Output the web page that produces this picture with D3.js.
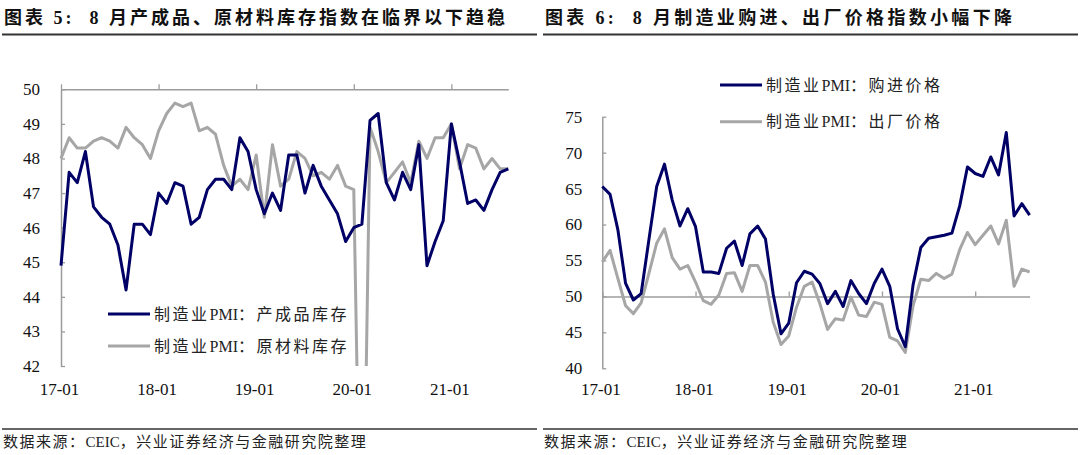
<!DOCTYPE html>
<html><head><meta charset="utf-8">
<script src="https://cdn.jsdelivr.net/npm/d3@7"></script>
<style>
html,body{margin:0;padding:0;background:#fff;}
svg{display:block;font-family:"Liberation Serif","Noto Sans CJK SC",serif;}
</style></head><body>
<svg id="c" width="1080" height="455"></svg>
<script>
const months = [
"17-01","17-02","17-03","17-04","17-05","17-06","17-07","17-08","17-09","17-10","17-11","17-12",
"18-01","18-02","18-03","18-04","18-05","18-06","18-07","18-08","18-09","18-10","18-11","18-12",
"19-01","19-02","19-03","19-04","19-05","19-06","19-07","19-08","19-09","19-10","19-11","19-12",
"20-01","20-02","20-03","20-04","20-05","20-06","20-07","20-08","20-09","20-10","20-11","20-12",
"21-01","21-02","21-03","21-04","21-05","21-06","21-07","21-08"];
const xTickLabels = ["17-01","18-01","19-01","20-01","21-01"];

// 图表5
const finishedGoods = [
44.9,47.6,47.3,48.2,46.6,46.3,46.1,45.5,44.2,46.1,46.1,45.8,
47.0,46.7,47.3,47.2,46.1,46.3,47.1,47.4,47.4,47.1,48.6,48.2,
47.1,46.4,47.0,46.5,48.1,48.1,47.0,47.8,47.2,46.8,46.4,45.6,
46.0,46.1,49.1,49.3,47.3,46.8,47.6,47.1,48.4,44.9,45.6,46.2,
49.0,47.9,46.7,46.8,46.5,47.1,47.6,47.7];
const rawMaterials = [
48.0,48.6,48.3,48.3,48.5,48.6,48.5,48.3,48.9,48.6,48.4,48.0,
48.8,49.3,49.6,49.5,49.6,48.8,48.9,48.7,47.8,47.2,47.4,47.1,
48.1,46.3,48.4,47.2,47.4,48.2,48.0,47.5,47.6,47.4,47.8,47.2,
47.1,33.9,48.9,48.2,47.3,47.6,47.9,47.3,48.5,48.0,48.6,48.6,
49.0,47.7,48.4,48.3,47.7,48.0,47.7,47.7];
const leftYTicks = [42,43,44,45,46,47,48,49,50];

// 图表6
const purchasePrice = [
65.3,64.2,59.3,51.8,49.5,50.4,57.9,65.3,68.4,63.4,59.8,62.2,
59.7,53.4,53.4,53.2,56.7,57.7,54.3,58.7,59.8,58.0,50.3,44.8,
46.3,51.9,53.5,53.1,51.8,49.0,50.7,48.6,52.2,50.4,49.0,51.8,
53.8,51.4,45.5,43.0,51.6,56.8,58.1,58.3,58.5,58.8,62.6,68.0,
67.1,66.7,69.4,66.9,72.8,61.2,62.9,61.3];
const exFactoryPrice = [
54.8,56.4,52.5,48.7,47.6,49.1,53.2,57.4,59.4,55.4,53.8,54.3,
52.0,49.4,48.9,50.2,53.2,53.3,50.7,54.3,54.3,52.0,46.4,43.3,
44.5,48.5,51.4,52.0,49.0,45.4,46.9,46.7,49.9,47.4,47.2,49.2,
48.9,44.3,43.8,42.2,48.7,52.4,52.2,53.2,52.5,53.1,56.5,58.9,
57.2,58.5,59.8,57.3,60.6,51.4,53.8,53.4];
const rightYTicks = [40,45,50,55,60,65,70,75];

const titles = ["图表 5:  8 月产成品、原材料库存指数在临界以下趋稳", "图表 6:  8 月制造业购进、出厂价格指数小幅下降"];
const source = "数据来源：CEIC，兴业证券经济与金融研究院整理";
const leftNames = ["制造业PMI：产成品库存","制造业PMI：原材料库存"];
const rightNames = ["制造业PMI：购进价格","制造业PMI：出厂价格"];

const NAVY = "#000066", GRAY = "#A6A6A6", AXIS = "#9C9C9C";
const svg = d3.select("#c");

// text with letter-spaced CJK and tight Latin runs
function spacedText(sel, str, ls){
  const parts = str.match(/[A-Za-z]+|[^A-Za-z]+/g);
  parts.forEach(p=>{
    const latin = /^[A-Za-z]+$/.test(p);
    sel.append("tspan").attr("letter-spacing", latin ? 0 : ls).text(p);
  });
  return sel;
}

// titles & rules
const hdr = [{x0:2,x1:537,tx:4,tend:505},{x0:543,x1:1078,tx:545,tend:1012}];
hdr.forEach((h,i)=>{
  svg.append("text").attr("x",h.tx).attr("y",24).attr("font-size",18).attr("font-weight","bold")
    .attr("fill","#111").style("white-space","pre")
    .attr("textLength",h.tend-h.tx).attr("lengthAdjust","spacing").text(titles[i]);
  svg.append("line").attr("x1",h.x0).attr("x2",h.x1).attr("y1",34.5).attr("y2",34.5)
    .attr("stroke","#333").attr("stroke-width",2.2);
  svg.append("line").attr("x1",h.x0).attr("x2",h.x1).attr("y1",429).attr("y2",429)
    .attr("stroke","#333").attr("stroke-width",1.5);
  const ft = svg.append("text").attr("x",h.tx-1).attr("y",447).attr("font-size",15).attr("fill","#222");
  spacedText(ft, source, 1.5);
});

function chart(cfg){
  const g = svg.append("g");
  const x = d3.scalePoint(months,[cfg.x0,cfg.x1]);
  const y = d3.scaleLinear(cfg.ydom,[cfg.yb,cfg.yt]);
  const clipId = "clip"+cfg.id;
  svg.append("clipPath").attr("id",clipId).append("rect")
    .attr("x",cfg.x0-2).attr("y",cfg.yt).attr("width",cfg.x1-cfg.x0+4).attr("height",cfg.yb-cfg.yt);

  // y axis
  const ya = g.append("g").attr("transform",`translate(${cfg.x0},0)`)
    .call(d3.axisLeft(y).tickValues(cfg.yticks).tickSizeInner(-4).tickSizeOuter(0).tickPadding(cfg.pad));
  ya.selectAll("line").attr("stroke",AXIS).attr("stroke-width",1.3);
  ya.select(".domain").attr("stroke",AXIS).attr("stroke-width",1.5);
  ya.selectAll("text").attr("font-size",17).attr("fill","#111").attr("font-family","Liberation Serif");

  // x axis line at 50 with upward ticks
  const xa = g.append("g").attr("transform",`translate(0,${y(50)})`)
    .call(d3.axisTop(x).tickValues(xTickLabels).tickSizeInner(5).tickSizeOuter(0).tickFormat(""));
  xa.selectAll("line").attr("stroke",AXIS).attr("stroke-width",1.3);
  xa.select(".domain").attr("stroke",AXIS).attr("stroke-width",1.5);

  // x labels at bottom
  const xl = g.append("g").attr("transform",`translate(-2,379.5)`)
    .call(d3.axisBottom(x).tickValues(xTickLabels).tickSize(0).tickPadding(3));
  xl.select(".domain").remove();
  xl.selectAll("text").attr("font-size",17).attr("fill","#111").attr("font-family","Liberation Serif");

  const line = d3.line().x((d,i)=>x(months[i])).y(d=>y(d));
  const lg = g.append("g").attr("clip-path",`url(#${clipId})`);
  cfg.series.forEach(s=>{
    lg.append("path").datum(s.data).attr("d",line).attr("fill","none")
      .attr("stroke",s.color).attr("stroke-width",3).attr("stroke-linejoin","round");
  });
  // legend
  cfg.series.forEach((s,i)=>{
    const ly = cfg.legY[i];
    g.append("line").attr("x1",cfg.legX).attr("x2",cfg.legX+42).attr("y1",ly).attr("y2",ly)
      .attr("stroke",s.color).attr("stroke-width",3);
    const t = g.append("text").attr("x",cfg.legX+46).attr("y",ly).attr("dy","0.36em")
      .attr("font-size",16).attr("fill","#222");
    spacedText(t, s.name, 2.5);
  });
}

chart({id:"L",x0:61,x1:508.3,ydom:[42,50],yb:366,yt:89.3,yticks:leftYTicks,pad:21,
  series:[{data:rawMaterials,color:GRAY,name:leftNames[1]},{data:finishedGoods,color:NAVY,name:leftNames[0]}],
  legX:108,legY:[346,314]});
chart({id:"R",x0:602.3,x1:1029.6,ydom:[40,75],yb:368.3,yt:116.7,yticks:rightYTicks,pad:20,
  series:[{data:exFactoryPrice,color:GRAY,name:rightNames[1]},{data:purchasePrice,color:NAVY,name:rightNames[0]}],
  legX:720,legY:[121.7,85]});
</script></body></html>
